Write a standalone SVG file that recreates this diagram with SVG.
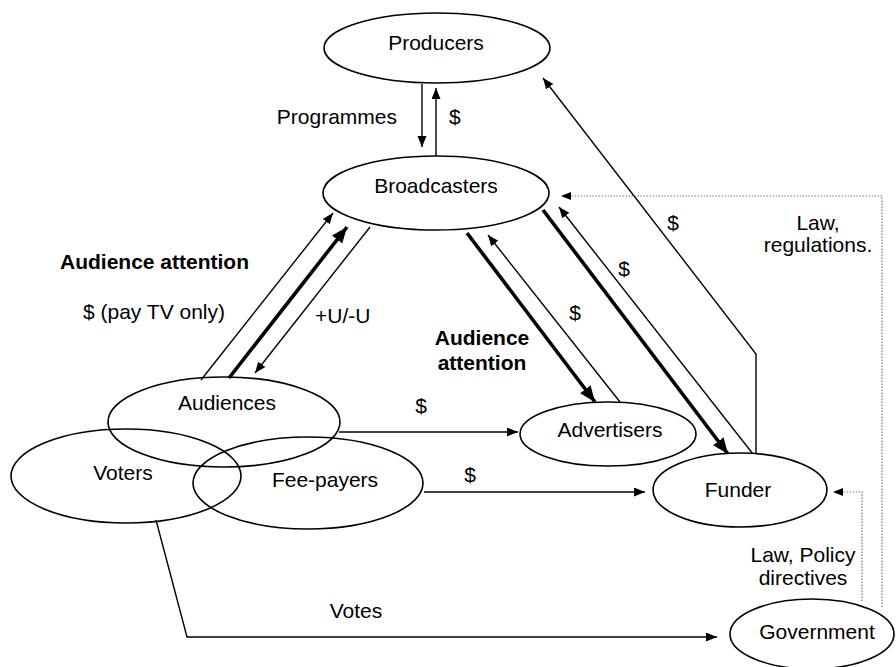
<svg xmlns="http://www.w3.org/2000/svg" width="896" height="667" viewBox="0 0 896 667">
<defs>
<style>
.node ellipse{fill:#fff;stroke:#000;stroke-width:1.6}
text{font-family:"Liberation Sans",Arial,sans-serif;font-size:21px;fill:#000}
.c{text-anchor:middle}
.b{font-weight:bold}
.thin{fill:none;stroke:#000;stroke-width:1.4}
.thick{fill:none;stroke:#000;stroke-width:3.6}
.dot{fill:none;stroke:#777;stroke-width:1.2;stroke-dasharray:1.5 1.5}
</style>
<marker id="ah" markerUnits="userSpaceOnUse" markerWidth="12" markerHeight="10" refX="11" refY="4.5" orient="auto"><path d="M0,0 L11,4.5 L0,9 z" fill="#000"/></marker>
<marker id="ahb" markerUnits="userSpaceOnUse" markerWidth="18" markerHeight="16" refX="16" refY="6.5" orient="auto"><path d="M0,0 L16,6.5 L0,13 z" fill="#000"/></marker>
<marker id="ahd" markerUnits="userSpaceOnUse" markerWidth="12" markerHeight="10" refX="10" refY="4" orient="auto"><path d="M0,0 L10,4 L0,8 z" fill="#000"/></marker>
</defs>
<rect width="896" height="667" fill="#fff"/>

<g id="connectors">
<line class="thin" x1="422" y1="84" x2="422" y2="147" marker-end="url(#ah)"/>
<line class="thin" x1="436" y1="156" x2="436" y2="88" marker-end="url(#ah)"/>
<line class="thin" x1="201" y1="380" x2="333" y2="213" marker-end="url(#ah)"/>
<line class="thick" x1="229" y1="378" x2="347" y2="227" marker-end="url(#ahb)"/>
<line class="thin" x1="370" y1="227" x2="255" y2="373" marker-end="url(#ah)"/>
<line class="thick" x1="467" y1="233" x2="595" y2="402" marker-end="url(#ahb)"/>
<line class="thin" x1="620" y1="402" x2="488" y2="235" marker-end="url(#ah)"/>
<line class="thick" x1="543" y1="210" x2="728" y2="454" marker-end="url(#ahb)"/>
<line class="thin" x1="753" y1="454" x2="559" y2="207" marker-end="url(#ah)"/>
<polyline class="thin" points="756,454 756,354 543,78" marker-end="url(#ah)"/>
<line class="thin" x1="339" y1="432" x2="518" y2="432" marker-end="url(#ah)"/>
<line class="thin" x1="424" y1="492" x2="645" y2="492" marker-end="url(#ah)"/>
<polyline class="thin" points="156,520 187,637 717,637" marker-end="url(#ah)"/>
<polyline class="dot" points="882,607 882,196 561,196" marker-end="url(#ahd)"/>
<polyline class="dot" points="862,601 862,492 833,492" marker-end="url(#ahd)"/>
</g>

<g id="producers" class="node"><ellipse cx="437" cy="48" rx="113" ry="35"/><text class="c" x="436" y="50">Producers</text></g>
<g id="broadcasters" class="node"><ellipse cx="436" cy="193" rx="113" ry="37"/><text class="c" x="436" y="193">Broadcasters</text></g>
<g id="audiences" class="node"><ellipse cx="224" cy="422" rx="116" ry="45" style="fill:none"/><text class="c" x="227" y="410">Audiences</text></g>
<g id="voters" class="node"><ellipse cx="126" cy="476" rx="115" ry="47" style="fill:none"/><text class="c" x="123" y="480">Voters</text></g>
<g id="fee-payers" class="node"><ellipse cx="308" cy="483" rx="115" ry="46" style="fill:none"/><text class="c" x="325" y="487">Fee-payers</text></g>
<g id="advertisers" class="node"><ellipse cx="608" cy="434" rx="88" ry="32"/><text class="c" x="610" y="437">Advertisers</text></g>
<g id="funder" class="node"><ellipse cx="740" cy="490" rx="87" ry="37"/><text class="c" x="738" y="497">Funder</text></g>
<g id="government" class="node"><ellipse cx="812" cy="634" rx="82" ry="35"/><text class="c" x="817" y="639">Government</text></g>

<g id="labels">
<text x="397" y="124" text-anchor="end">Programmes</text>
<text x="449" y="124">$</text>
<text class="b" x="60" y="269">Audience attention</text>
<text x="83" y="319">$ (pay TV only)</text>
<text x="315" y="323">+U/-U</text>
<text class="c b" x="482" y="345">Audience</text>
<text class="c b" x="482" y="370">attention</text>
<text class="c" x="575" y="320">$</text>
<text class="c" x="624" y="276">$</text>
<text class="c" x="673" y="230">$</text>
<text class="c" x="818" y="230">Law,</text>
<text class="c" x="818" y="252">regulations.</text>
<text class="c" x="421" y="413">$</text>
<text class="c" x="470" y="482">$</text>
<text class="c" x="803" y="562">Law, Policy</text>
<text class="c" x="803" y="585">directives</text>
<text class="c" x="356" y="618">Votes</text>
</g>
</svg>
